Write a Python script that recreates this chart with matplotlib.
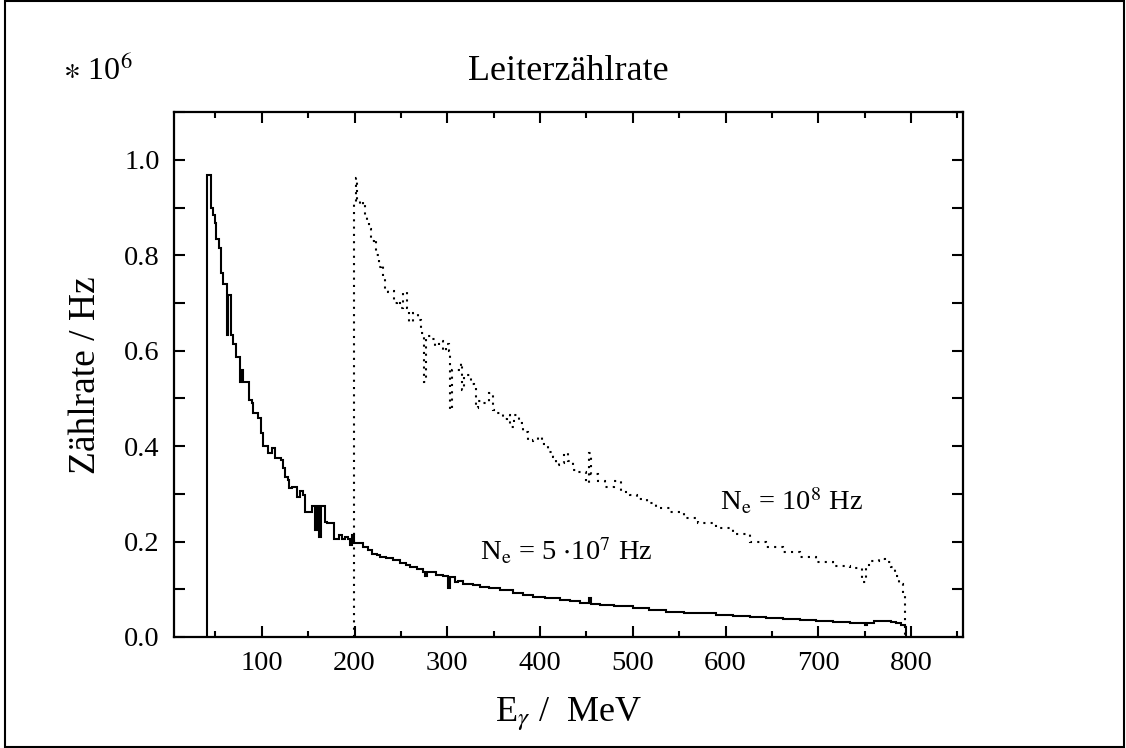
import numpy as np
import matplotlib
matplotlib.use("Agg")
import matplotlib.pyplot as plt
from matplotlib.patches import Rectangle
from matplotlib.ticker import MultipleLocator, FuncFormatter

plt.rcParams['font.family'] = ['Liberation Serif', 'DejaVu Serif']
plt.rcParams['mathtext.fontset'] = 'stix'

#------------------------------------------------------------
# Ne = 5*10^7 Hz  (solid histogram), bin edges in MeV, rates in 10^6 Hz
solid_edges = [41.0, 44.7, 46.8, 49.3, 51.0, 54.0, 55.8, 58.3, 62.5, 63.5, 67.0, 69.0, 71.6, 76.3, 77.0,
               80.0, 86.0, 89.0, 90.0, 96.0, 98.6, 101.0, 106.5, 110.5, 114.0, 121.0, 123.0, 125.0, 128.0,
               129.0, 133.0, 137.5, 141.0, 144.0, 146.0, 153.6, 157.5, 159.0, 162.0, 163.5, 168.0, 170.0,
               177.5, 183.0, 186.0, 190.0, 193.0, 195.0, 197.5, 199.5, 209.0, 214.0, 219.0, 224.0, 227.0,
               234.0, 241.0, 249.0, 255.0, 260.0, 267.0, 274.0, 276.0, 278.0, 288.0, 295.0, 301.0, 303.0,
               308.0, 312.0, 317.0, 321.0, 328.0, 335.0, 345.0, 357.0, 371.0, 382.0, 392.0, 405.0, 421.0,
               432.0, 443.0, 452.5, 455.0, 465.0, 480.0, 500.0, 518.0, 536.0, 555.0, 572.0, 590.0, 608.0,
               626.0, 644.0, 662.0, 680.0, 698.0, 716.0, 734.0, 748.0, 750.0, 752.0, 760.0, 770.0, 778.0,
               784.0, 789.0, 793.0, 795.0]
solid_rate = [0.968, 0.899, 0.884, 0.867, 0.835, 0.815, 0.763, 0.740, 0.633, 0.717, 0.633, 0.615, 0.587, 0.535,
              0.560, 0.535, 0.497, 0.490, 0.469, 0.459, 0.427, 0.400, 0.385, 0.396, 0.375, 0.370, 0.354, 0.336,
              0.330, 0.312, 0.315, 0.294, 0.307, 0.298, 0.262, 0.274, 0.224, 0.274, 0.210, 0.274, 0.242, 0.238,
              0.205, 0.213, 0.206, 0.210, 0.205, 0.193, 0.213, 0.197, 0.189, 0.182, 0.175, 0.172, 0.168, 0.165,
              0.161, 0.155, 0.150, 0.147, 0.143, 0.137, 0.128, 0.136, 0.130, 0.127, 0.103, 0.126, 0.116, 0.118,
              0.111, 0.112, 0.108, 0.105, 0.102, 0.0985, 0.093, 0.088, 0.0845, 0.081, 0.0776, 0.075, 0.072,
              0.081, 0.070, 0.068, 0.064, 0.060, 0.056, 0.053, 0.051, 0.0495, 0.046, 0.044, 0.0415, 0.039,
              0.037, 0.0355, 0.034, 0.032, 0.030, 0.029, 0.025, 0.030, 0.033, 0.034, 0.032, 0.029, 0.025, 0.022]

# Ne = 10^8 Hz  (dotted histogram)
dot_edges = [199.0, 201.0, 203.0, 206.0, 209.0, 211.0, 213.0, 216.0, 218.0, 221.0, 223.0, 226.0, 229.0, 231.0,
             233.0, 236.0, 240.0, 243.0, 246.0, 249.0, 252.0, 256.0, 259.0, 263.0, 268.0, 272.0, 275.0, 277.0,
             283.0, 287.0, 291.0, 295.0, 299.0, 302.0, 303.0, 305.0, 315.0, 316.0, 318.0, 326.0, 329.0, 331.0,
             333.0, 339.0, 345.0, 349.0, 353.0, 360.0, 364.0, 368.0, 372.0, 377.0, 382.0, 387.0, 392.0, 398.0,
             402.0, 409.0, 414.0, 417.0, 420.0, 426.0, 430.0, 436.0, 441.0, 450.0, 453.0, 455.0, 463.0, 470.0,
             480.0, 487.0, 497.0, 505.0, 515.0, 525.0, 540.0, 555.0, 570.0, 590.0, 608.0, 626.0, 644.0, 662.0,
             680.0, 698.0, 716.0, 734.0, 747.0, 751.0, 757.0, 765.0, 772.0, 778.0, 783.0, 787.0, 791.0, 794.0]
dot_rate = [0.909, 0.962, 0.915, 0.905, 0.912, 0.880, 0.875, 0.855, 0.830, 0.835, 0.800, 0.775, 0.780, 0.755,
            0.730, 0.724, 0.725, 0.700, 0.705, 0.690, 0.724, 0.690, 0.660, 0.680, 0.665, 0.637, 0.535, 0.630,
            0.625, 0.610, 0.620, 0.600, 0.615, 0.600, 0.476, 0.560, 0.574, 0.518, 0.550, 0.530, 0.522, 0.480,
            0.495, 0.490, 0.511, 0.476, 0.470, 0.458, 0.466, 0.441, 0.465, 0.448, 0.430, 0.410, 0.412, 0.420,
            0.405, 0.388, 0.378, 0.360, 0.365, 0.385, 0.368, 0.350, 0.345, 0.322, 0.386, 0.342, 0.326, 0.315,
            0.326, 0.305, 0.298, 0.290, 0.280, 0.270, 0.262, 0.250, 0.240, 0.228, 0.215, 0.200, 0.188, 0.178,
            0.168, 0.158, 0.148, 0.145, 0.116, 0.150, 0.160, 0.164, 0.158, 0.147, 0.128, 0.112, 0.092]

x_major = [100, 200, 300, 400, 500, 600, 700, 800]
y_labels = [0.0, 0.2, 0.4, 0.6, 0.8, 1.0]

#------------------------------------------------------------
fig = plt.figure(figsize=(11.26, 7.48), dpi=100)
ax = fig.add_axes([0.1543, 0.1484, 0.7009, 0.7015])

ax.stairs(solid_rate, solid_edges, baseline=0, color='black', lw=1.5)
ax.stairs(dot_rate, dot_edges, baseline=0, color='black', lw=1.5, linestyle=(0, (1, 2.5)))

ax.set_xlim(5, 856)
ax.set_ylim(0, 1.1)

ax.set_xticks(x_major)
ax.xaxis.set_minor_locator(MultipleLocator(50))
ax.yaxis.set_major_locator(MultipleLocator(0.1))
ax.yaxis.set_major_formatter(FuncFormatter(
    lambda v, p: ('%.1f' % v) if any(abs(v - t) < 1e-6 for t in y_labels) else ''))

ax.tick_params(which='both', direction='in', top=True, right=True, width=1.5, labelsize=20.5, pad=10)
ax.tick_params(which='major', length=8)
ax.tick_params(which='minor', length=4)
for s in ax.spines.values():
    s.set_linewidth(1.6)

ax.set_xlabel(r'E$_\gamma$ /  MeV', fontsize=26, labelpad=14)
ax.set_ylabel('Zählrate / Hz', fontsize=27, labelpad=15)

fig.text(0.505, 0.905, 'Leiterzählrate', fontsize=26, ha='center', va='center')
fig.text(0.056, 0.905, r'$\ast$ 10$^6$', fontsize=23, ha='left', va='center')

ax.text(335, 0.161, r'N$_\mathrm{e}$ = 5 $\cdot$10$^7$ Hz', fontsize=20.5, ha='left', va='baseline')
ax.text(594, 0.266, r'N$_\mathrm{e}$ = 10$^8$ Hz', fontsize=20.5, ha='left', va='baseline')

# outer frame round the whole picture
fig.patches.append(Rectangle((0.004, 0.001), 0.994, 0.998, transform=fig.transFigure,
                             fill=False, edgecolor='black', lw=1.5))

plt.savefig('out.png', dpi=100)
